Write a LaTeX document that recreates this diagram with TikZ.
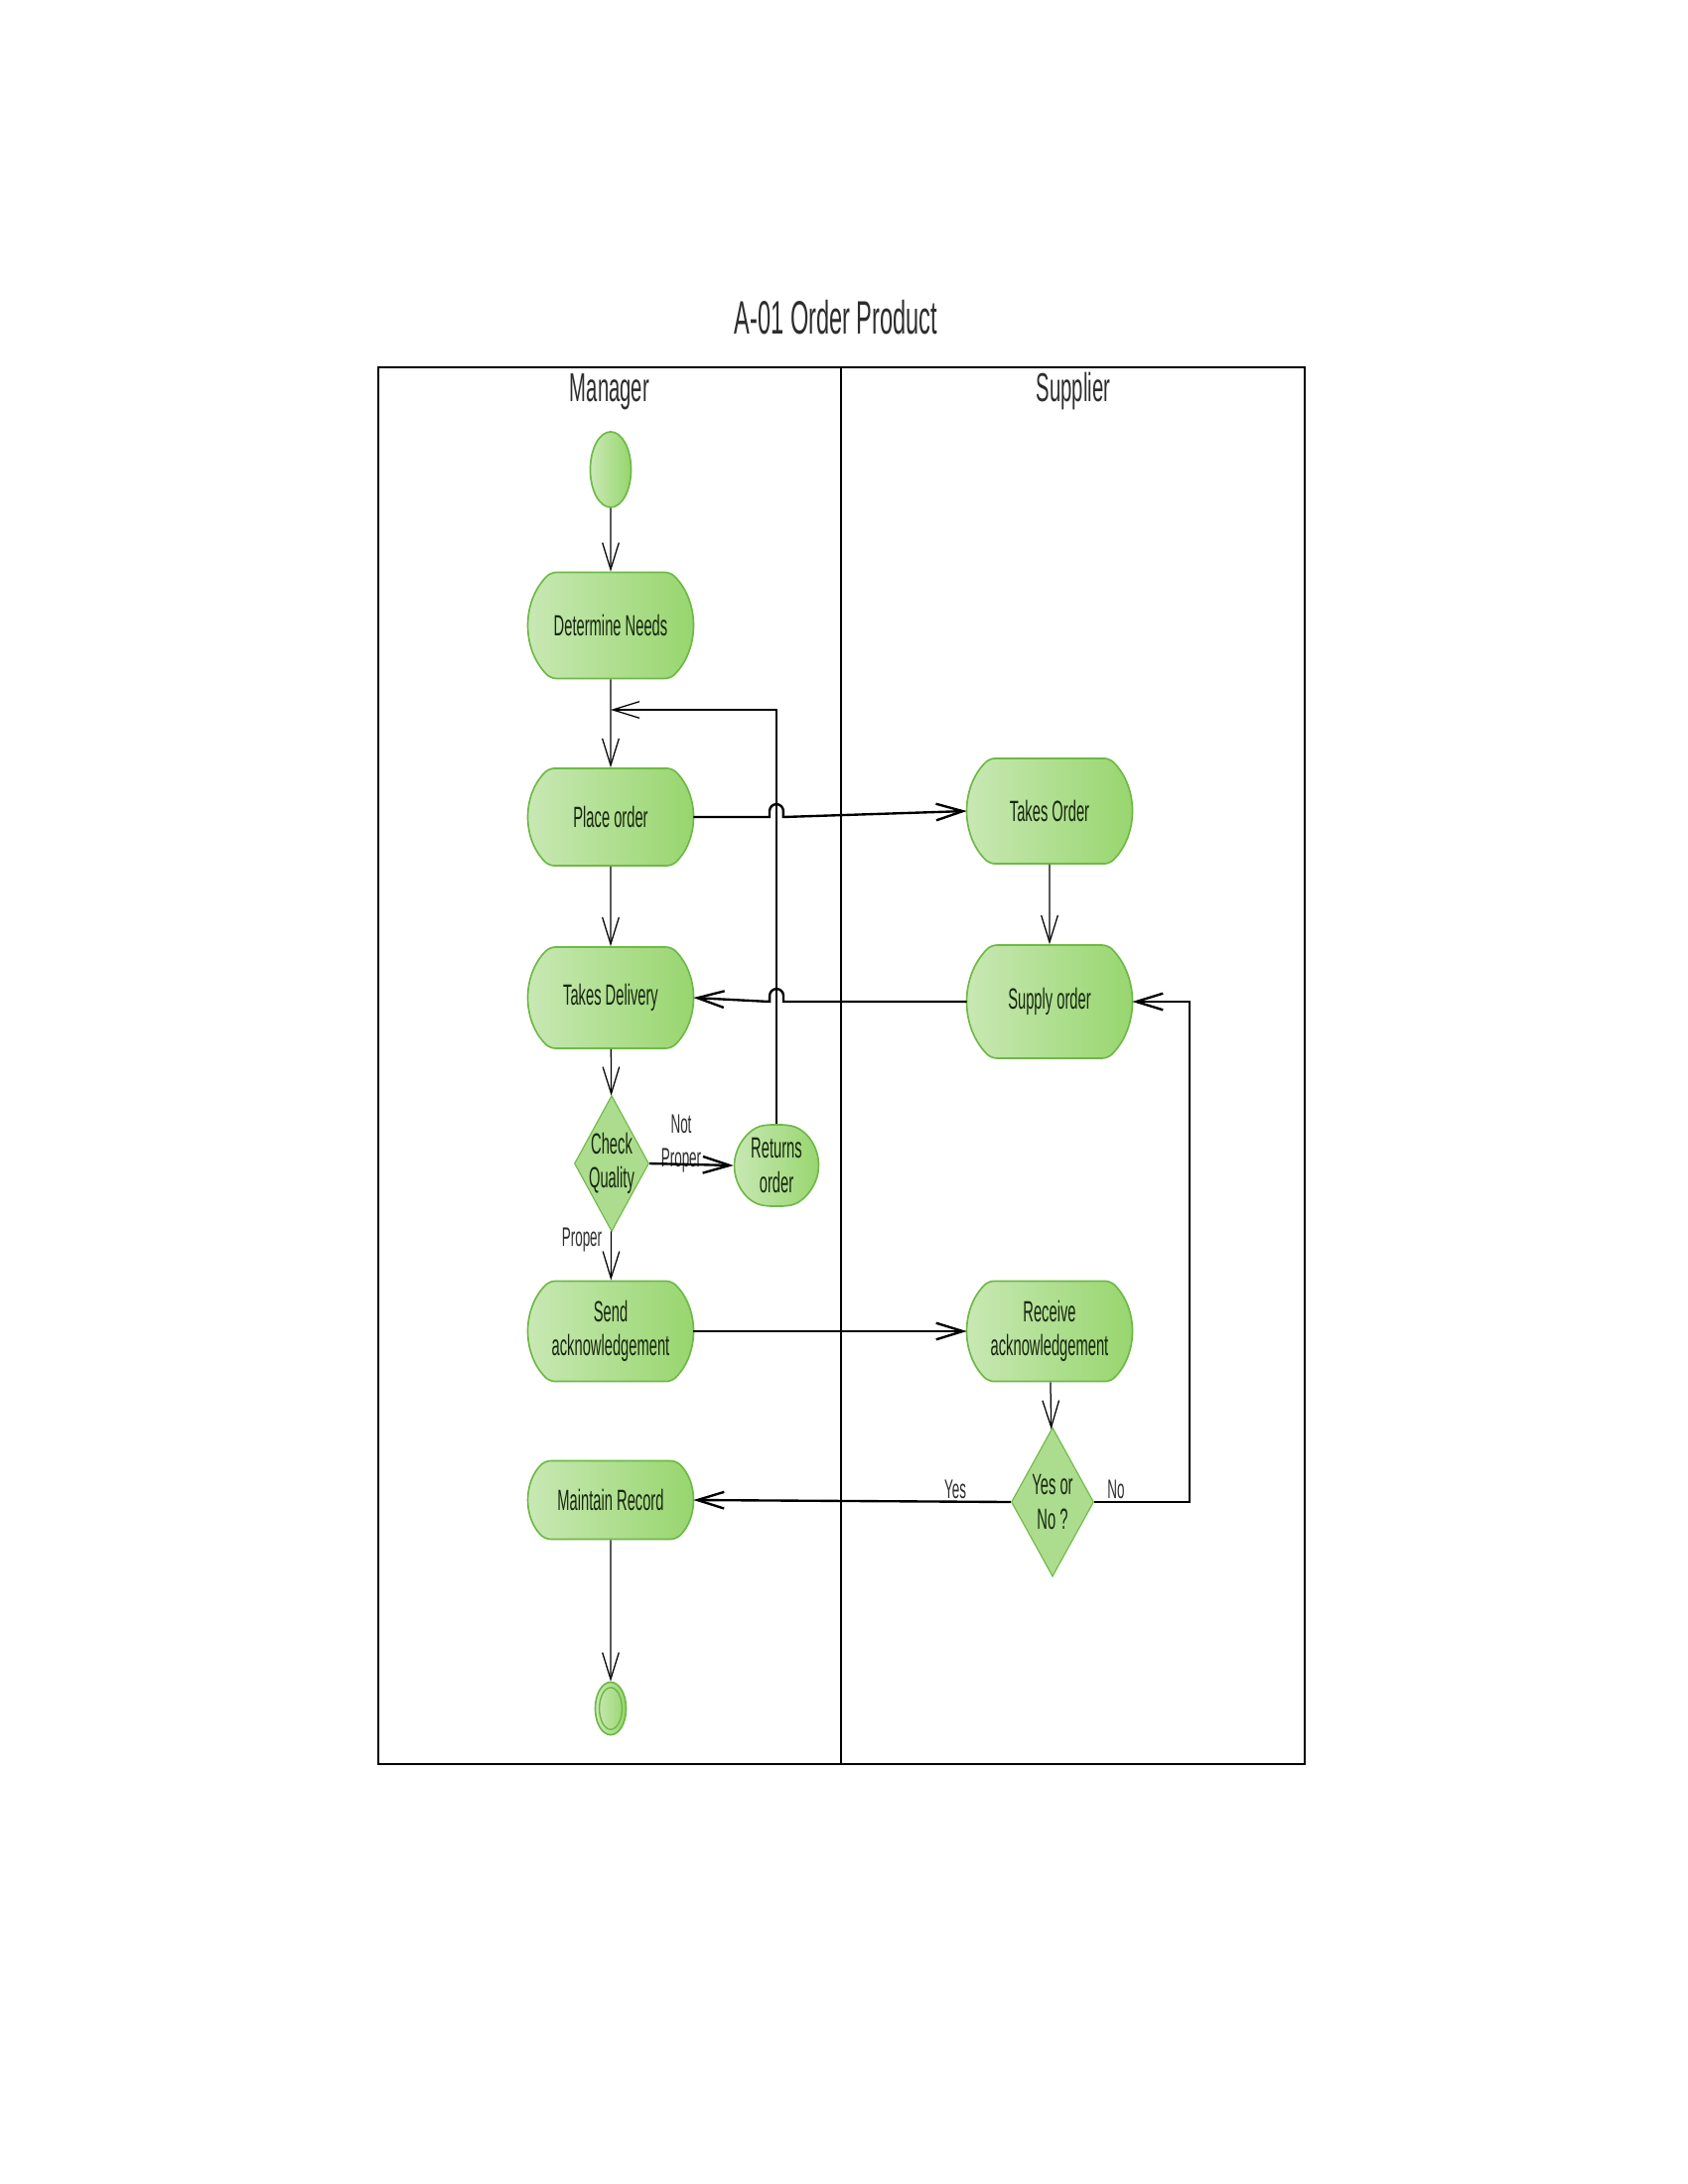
\documentclass[tikz,border=0pt]{standalone}
\usepackage{fontspec}
\setmainfont{Liberation Sans}[FakeStretch=0.5]
\usetikzlibrary{shapes.misc,shapes.geometric,arrows.meta,calc}
\definecolor{gl}{RGB}{202,233,182}
\definecolor{gr}{RGB}{150,213,108}
\definecolor{gb}{RGB}{110,185,70}
\definecolor{gd}{RGB}{172,220,142}
\definecolor{txt}{RGB}{22,38,14}
\definecolor{ttl}{RGB}{45,45,45}
\begin{document}
\begin{tikzpicture}[x=0.36pt,y=-0.36pt,
  act/.style={rounded rectangle, rounded rectangle arc length=90, rounded corners=2pt, draw=gb, line width=0.6pt,
    left color=gl, right color=gr, minimum width=59.4pt, inner sep=0pt, align=center,
    font=\fontsize{10.6}{12.4}\selectfont, text=txt},
  dia/.style={diamond, draw=gb, line width=0.4pt, fill=gd, inner sep=0pt},
  dtext/.style={align=center, font=\fontsize{10.6}{12.4}\selectfont, text=txt},
  startst/.style={ellipse, draw=gb, line width=0.6pt, left color=gl, right color=gr, inner sep=0pt},
  lbl/.style={font=\fontsize{9.7}{12.2}\selectfont, text=ttl, inner sep=0pt, align=center},
  flow/.style={draw=black, line width=0.45pt, -{Straight Barb[length=9.7pt,width=6pt]}},
  heavy/.style={flow, line width=0.85pt},
  lane/.style={font=\fontsize{14.6}{17}\selectfont, text=ttl, inner sep=0pt, anchor=base}
]
\useasboundingbox (0,0) rectangle (1700,2200);

% title and swimlanes
\node[font=\fontsize{17}{20}\selectfont, text=ttl, inner sep=0pt, anchor=base] (title) at (842,337) {A-01 Order Product};
\draw[line width=0.9pt] (381,370) rectangle (1314,1777);
\draw[line width=0.45pt] (847,370) -- (847,1777);
\node[lane] (mgr) at (614,405) {Manager};
\node[lane] (sup) at (1081,405) {Supplier};

% nodes
\node[startst, minimum width=14.8pt, minimum height=27.4pt] (start) at (615,473) {};
\node[act, minimum height=38.5pt] (dn) at (615,630) {Determine Needs};
\node[act, minimum height=35.3pt] (po) at (615,823) {Place order};
\node[act, minimum height=36.7pt] (td) at (615,1005) {Takes Delivery};
\node[dia, minimum width=27pt, minimum height=49.3pt,
  label={[dtext]center:Check\\Quality}] (cq) at (616,1172) {};
\node[act, minimum width=20pt, minimum height=29.5pt, rounded rectangle arc length=150] (ro) at (782,1174) {Returns\\order};
\node[act, minimum height=36.4pt] (sa) at (615,1341) {Send\\acknowledgement};
\node[act, minimum height=28.4pt] (mr) at (615,1511) {Maintain Record};
\node[startst, minimum width=11.2pt, minimum height=19.1pt] (end) at (615,1721) {};
\draw[gb, line width=0.5pt] (end.center) ellipse [x radius=4.1pt, y radius=7.6pt];

\node[act, minimum height=38.2pt] (to) at (1057,817) {Takes Order};
\node[act, minimum height=41pt] (so) at (1057,1009) {Supply order};
\node[act, minimum height=36.4pt] (ra) at (1057,1341) {Receive\\acknowledgement};
\node[dia, minimum width=29.9pt, minimum height=54pt,
  label={[dtext]center:Yes or\\No ?}] (yn) at (1060,1513) {};

% labels
\node[lbl] (np) at (686,1152) {Not\\Proper};
\node[lbl, anchor=base] (pr) at (586,1255) {Proper};
\node[lbl, anchor=base] (yes) at (962,1509) {Yes};
\node[lbl, anchor=base] (no) at (1124,1509) {No};

\coordinate (loopy) at (0,715);

% connectors
\draw[flow] (start) -- (dn);
\draw[flow] (dn) -- (po);
\draw[flow] (po) -- (td);
\draw[flow] (td) -- (cq);
\draw[flow] (cq) -- (sa);
\draw[heavy] (cq.east) -- (ro.west);
\draw[flow] (ro.north) -- (ro.north |- loopy) -- (dn.south |- loopy);
\draw[heavy] (po.east) -- ($(po.east -| ro.north)+(-7,0)$) -- ++(0,-6)
  arc[start angle=180,end angle=0,radius=2.5pt] -- ++(0,6) -- (to.west);
\draw[flow] (to) -- (so);
\draw[heavy] (so.west) -- ($(so.west -| ro.north)+(7,0)$) -- ++(0,-6)
  arc[start angle=0,end angle=180,radius=2.5pt] -- ++(0,6) -- (td.east);
\draw[heavy] (sa.east) -- (ra.west);
\draw[flow] (ra) -- (yn);
\draw[heavy] (yn.west) -- (mr.east);
\draw[heavy] (yn.east) -- ++(96,0) |- (so.east);
\draw[flow] (mr) -- (end);
\end{tikzpicture}
\end{document}
